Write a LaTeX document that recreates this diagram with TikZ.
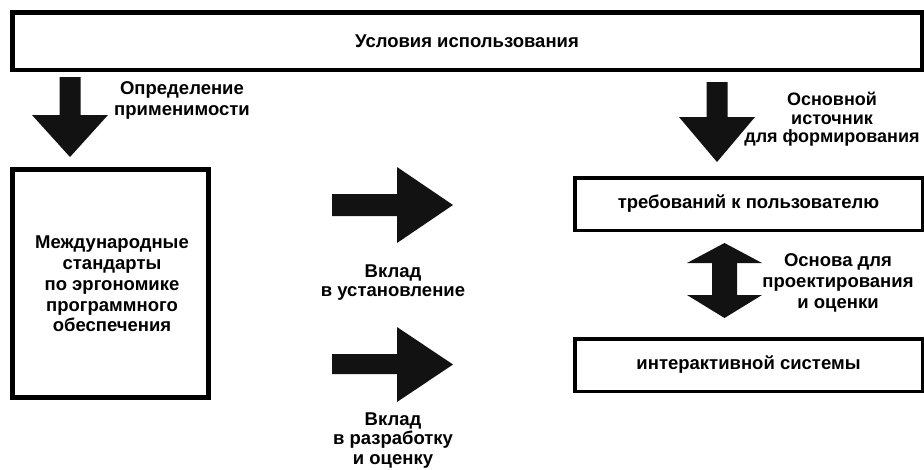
\documentclass[tikz,border=0pt]{standalone}
\usepackage{fontspec}
\setmainfont{Liberation Sans}
\begin{document}
\begin{tikzpicture}[x=1pt,y=-1pt,
  lbl/.style={font=\bfseries\fontsize{18.5}{20.8}\selectfont, align=center, inner sep=0pt},
  boxA/.style={draw=black, fill=white, inner sep=0pt, font=\bfseries\fontsize{18.5}{20.8}\selectfont, align=center},
  blk/.style={fill=black!93}]
\useasboundingbox (0,0) rectangle (924,469);
\fill[white] (0,0) rectangle (924,469);

% boxes
\node[boxA, line width=4.5pt, minimum width=909.5pt, minimum height=57.5pt] (top) at (467,41) {Условия использования};
\node[boxA, line width=5pt, minimum width=196pt, minimum height=228pt] (std) at (110.5,283.5) {};
\node[lbl] (stdt) at (112,284) {Международные\\стандарты\\по эргономике\\программного\\обеспечения};
\node[boxA, line width=3.5pt, minimum width=347.5pt, minimum height=52.5pt] (req) at (748.5,204) {требований к пользователю};
\node[boxA, line width=3.5pt, minimum width=347.5pt, minimum height=52.5pt] (sys) at (748.5,365) {интерактивной системы};

% labels
\node[lbl] (l1) at (182,100.5) {Определение\\применимости};
\node[lbl, font=\bfseries\fontsize{18}{18.5}\selectfont] (l2) at (832,119.5) {Основной\\источник\\для формирования};
\node[lbl, font=\bfseries\fontsize{18.5}{19}\selectfont] (l3) at (393,282.5) {Вклад\\в установление};
\node[lbl, font=\bfseries\fontsize{18.5}{19.5}\selectfont] (l4) at (393,440.5) {Вклад\\в разработку\\и оценку};
\node[lbl] (l5) at (838,283) {Основа для\\проектирования\\и оценки};

% block arrows
\fill[blk] (59.5,77) -- (80.5,77) -- (80.5,115) -- (108,115) -- (70,157) -- (32,115) -- (59.5,115) -- cycle;
\fill[blk] (706.5,82) -- (727.5,82) -- (727.5,117) -- (755,117) -- (717,162) -- (679,117) -- (706.5,117) -- cycle;
\fill[blk] (332,194) -- (397,194) -- (397,167) -- (453,205) -- (397,243) -- (397,216) -- (332,216) -- cycle;
\fill[blk] (332,354) -- (397,354) -- (397,327) -- (453,364.5) -- (397,402) -- (397,374) -- (332,374) -- cycle;
\fill[blk] (724.5,243) -- (762,263) -- (737,263) -- (737,295) -- (762,295) -- (724.5,318) -- (687,295) -- (712,295) -- (712,263) -- (687,263) -- cycle;
\end{tikzpicture}
\end{document}
